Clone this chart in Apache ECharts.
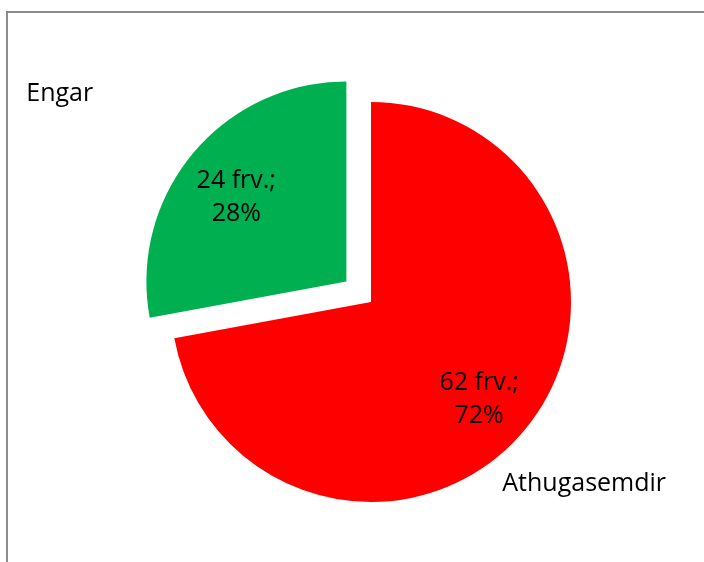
<!DOCTYPE html>
<html><head><meta charset="utf-8">
<script src="https://cdn.jsdelivr.net/npm/echarts@6/dist/echarts.min.js"></script>
<style>html,body{margin:0;padding:0;background:#fff}#c{width:704px;height:562px}</style>
</head><body><div id="c"></div>
<script>
const categories = ['Athugasemdir', 'Engar'];
const values = [62, 24];
const colors = ['#FF0000', '#00B050'];
const exploded = [false, true];
const unitText = 'frv.';

const FONT = '"Open Sans", "Noto Sans", sans-serif';
const FS = 25;
// label line lengths (positioning only, hidden lines)
const outerLen = [84, 93];
const outerLen2 = [-92, 23];

const chart = echarts.init(document.getElementById('c'), null, {renderer: 'canvas'});

const baseItems = categories.map((name, i) => ({
  name: name,
  value: values[i],
  selected: exploded[i]
}));

const common = {
  type: 'pie',
  startAngle: 90,
  clockwise: true,
  selectedMode: 'single',
  selectedOffset: 32,
  avoidLabelOverlap: false,
  percentPrecision: 0,
  animation: false,
  emphasis: {disabled: true},
  select: {disabled: false, itemStyle: {}}
};

const option = {
  backgroundColor: '#ffffff',
  graphic: [{
    type: 'polyline',
    shape: {points: [[7, 600], [7, 12], [720, 12]]},
    style: {fill: null, stroke: '#8c8c8c', lineWidth: 2},
    silent: true
  }],
  series: [
    Object.assign({}, common, {
      name: 'main',
      center: [371, 302],
      radius: [0, 200],
      data: baseItems.map((d, i) => ({
        name: d.name, value: d.value, selected: d.selected,
        itemStyle: {color: colors[i]},
        labelLine: {show: false, length: outerLen[i], length2: outerLen2[i]}
      })),
      label: {
        show: true,
        position: 'outside',
        formatter: '{b}',
        fontFamily: FONT,
        fontSize: FS,
        color: '#000',
        distanceToLabelLine: 5
      },
      labelLine: {show: false}
    }),
    Object.assign({}, common, {
      name: 'inner',
      center: [370, 309],
      radius: [80, 198],
      silent: true,
      z: 3,
      data: baseItems.map((d, i) => ({
        name: d.name, value: d.value, selected: d.selected,
        itemStyle: {color: 'rgba(0,0,0,0)'}
      })),
      label: {
        show: true,
        position: 'inside',
        formatter: p => p.value + ' ' + unitText + ';\n' + p.percent + '%',
        fontFamily: FONT,
        fontSize: FS,
        lineHeight: 33,
        color: '#000',
        align: 'center'
      },
      labelLine: {show: false}
    })
  ]
};
chart.setOption(option);
</script></body></html>
